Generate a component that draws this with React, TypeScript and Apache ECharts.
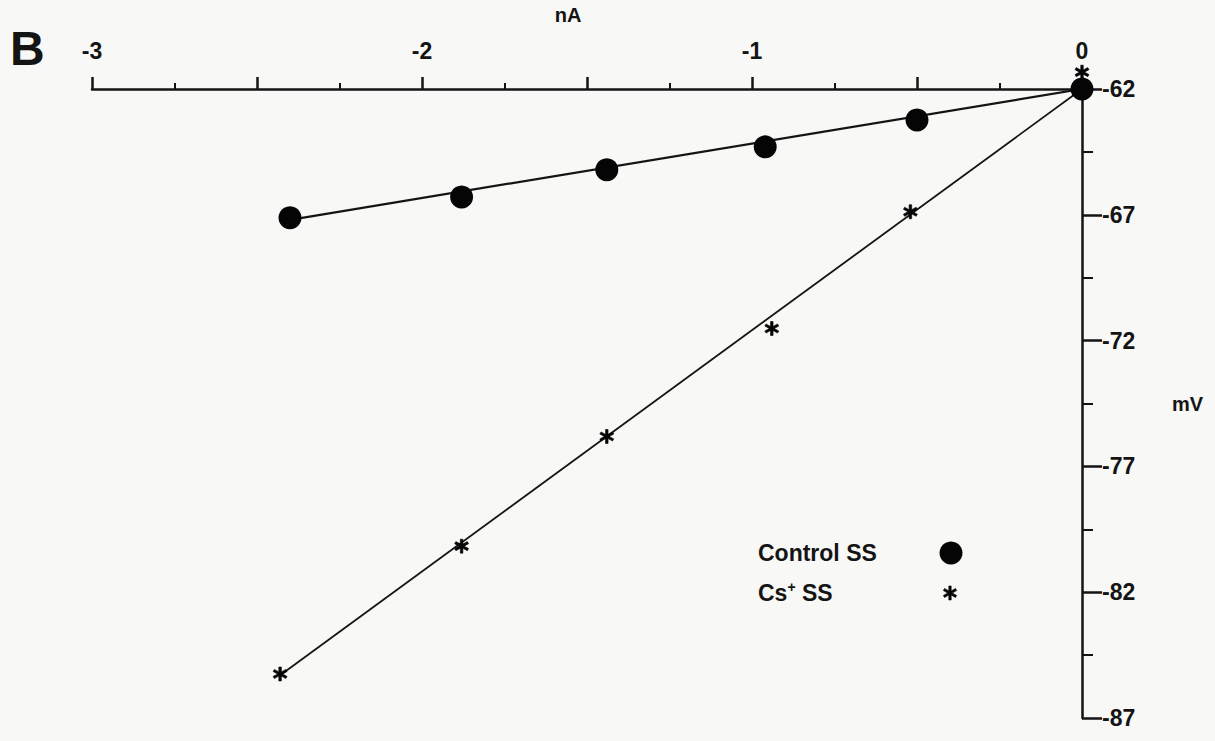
import React, { useEffect, useRef } from "react";
import * as echarts from "echarts";

// ---- data ----
const controlX = [0, -0.5, -0.96, -1.44, -1.88, -2.4];
const controlY = [-62, -63.23, -64.3, -65.21, -66.29, -67.12];
const csX = [0, -0.52, -0.94, -1.44, -1.88, -2.43];
const csY = [-61.33, -66.88, -71.52, -75.81, -80.17, -85.25];
// fitted lines (start / end)
const controlFitX = [0, -2.4];
const controlFitY = [-62, -67.2];
const csFitX = [0, -2.43];
const csFitY = [-62, -85.3];
const xTicks = { min: -3, max: 0, step: 0.5 };
const yTicks = { min: -87, max: -62, step: 5 };
const seriesNames = ["Control SS", "Cs+ SS"];

const STAR_D =
  "M8.2 0 L5.8 0 L5.8 14 L8.2 14 Z M12.462 11.539 L13.662 9.461 L1.538 2.461 L0.338 4.539 Z M0.338 9.461 L1.538 11.539 L13.662 4.539 L12.462 2.461 Z";
const STAR = "path://" + STAR_D;

echarts.graphic.registerShape("asterisk", echarts.graphic.extendPath(STAR_D, {}));

const pairs = (xs: number[], ys: number[]) => xs.map((x, i) => [x, ys[i]]);

const FONT = "'Liberation Sans', Arial, sans-serif";
const INK = "#141414";

export default function App() {
  const ref = useRef<HTMLDivElement>(null);
  useEffect(() => {
    if (!ref.current) return;
    const chart = echarts.init(ref.current, undefined, { renderer: "svg" });
    const labelStyle = {
      color: INK,
      fontFamily: FONT,
      fontWeight: "bold" as const,
      fontSize: 23,
    };
    const gText = {
      fill: INK,
      fontFamily: FONT,
      fontWeight: "bold" as const,
      fontSize: 23,
    };
    chart.setOption({
      animation: false,
      backgroundColor: "#f8f8f6",
      grid: { left: 92, right: 133, top: 89, bottom: 23, outerBoundsMode: "none", containLabel: false },
      xAxis: {
        type: "value",
        position: "top",
        min: xTicks.min,
        max: xTicks.max,
        interval: xTicks.step,
        name: "nA",
        nameLocation: "middle",
        nameGap: 64,
        nameTextStyle: { ...labelStyle, fontSize: 20, padding: [0, 38, 0, 0] },
        axisLine: { onZero: false, lineStyle: { color: INK, width: 2.5 } },
        axisTick: { show: true, length: 12, lineStyle: { color: INK, width: 2.5 } },
        minorTick: { show: true, splitNumber: 2, length: 6, lineStyle: { color: INK, width: 2 } },
        splitLine: { show: false },
        axisLabel: {
          ...labelStyle,
          margin: 27,
          showMinLabel: true,
          showMaxLabel: true,
          formatter: (v: number) =>
            Math.abs(v - Math.round(v)) < 1e-9 ? String(Math.round(v)) : "",
        },
      },
      yAxis: {
        type: "value",
        position: "right",
        min: yTicks.min,
        max: yTicks.max,
        interval: yTicks.step,
        name: "mV",
        nameLocation: "middle",
        nameRotate: 0,
        nameGap: 90,
        nameTextStyle: { ...labelStyle, fontSize: 20 },
        axisLine: { onZero: false, lineStyle: { color: INK, width: 2.5 } },
        axisTick: { show: true, length: 20, lineStyle: { color: INK, width: 2.5 } },
        minorTick: { show: true, splitNumber: 2, length: 11, lineStyle: { color: INK, width: 2 } },
        splitLine: { show: false },
        axisLabel: {
          ...labelStyle,
          margin: 20,
          showMinLabel: true,
          showMaxLabel: true,
        },
      },
      graphic: [
        {
          type: "text",
          left: 10,
          top: 24,
          style: { text: "B", fill: INK, fontFamily: FONT, fontWeight: "bold", fontSize: 48 },
        },
        // legend
        {
          type: "text",
          x: 758,
          y: 553,
          style: {
            ...gText,
            text: seriesNames[0],
            verticalAlign: "middle",
          },
        },
        {
          type: "circle",
          shape: { cx: 951, cy: 553, r: 11.5 },
          style: { fill: "#050505" },
        },
        {
          type: "text",
          x: 758,
          y: 593,
          style: {
            ...gText,
            text: "{a|Cs}{s|+}{a| SS}",
            verticalAlign: "middle",
            rich: {
              a: { ...gText },
              s: { ...gText, fontSize: 14, padding: [0, 0, 12, 0] },
            },
          },
        },
        {
          type: "asterisk",
          x: 943,
          y: 586,
          scaleX: 1,
          scaleY: 1,
          style: { fill: "#050505", stroke: "#050505", lineWidth: 0.6 },
        },
      ],
      series: [
        {
          type: "line",
          name: "controlFit",
          data: pairs(controlFitX, controlFitY),
          showSymbol: false,
          symbol: "none",
          lineStyle: { color: INK, width: 2.2 },
          silent: true,
          z: 2,
        },
        {
          type: "line",
          name: "csFit",
          data: pairs(csFitX, csFitY),
          showSymbol: false,
          symbol: "none",
          lineStyle: { color: INK, width: 1.8 },
          silent: true,
          z: 2,
        },
        {
          type: "scatter",
          name: seriesNames[0],
          data: pairs(controlX, controlY),
          symbol: "circle",
          symbolSize: 23,
          itemStyle: { color: "#050505", opacity: 1 },
          clip: false,
          z: 5,
        },
        {
          type: "scatter",
          name: seriesNames[1],
          data: pairs(csX, csY),
          symbol: STAR,
          symbolSize: 14,
          itemStyle: { color: "#050505", borderColor: "#050505", borderWidth: 0.6, opacity: 1 },
          clip: false,
          z: 6,
        },
      ],
    });
    return () => chart.dispose();
  }, []);
  return (
    <div
      ref={ref}
      style={{ position: "fixed", left: 0, top: 0, width: 1215, height: 741 }}
    />
  );
}
